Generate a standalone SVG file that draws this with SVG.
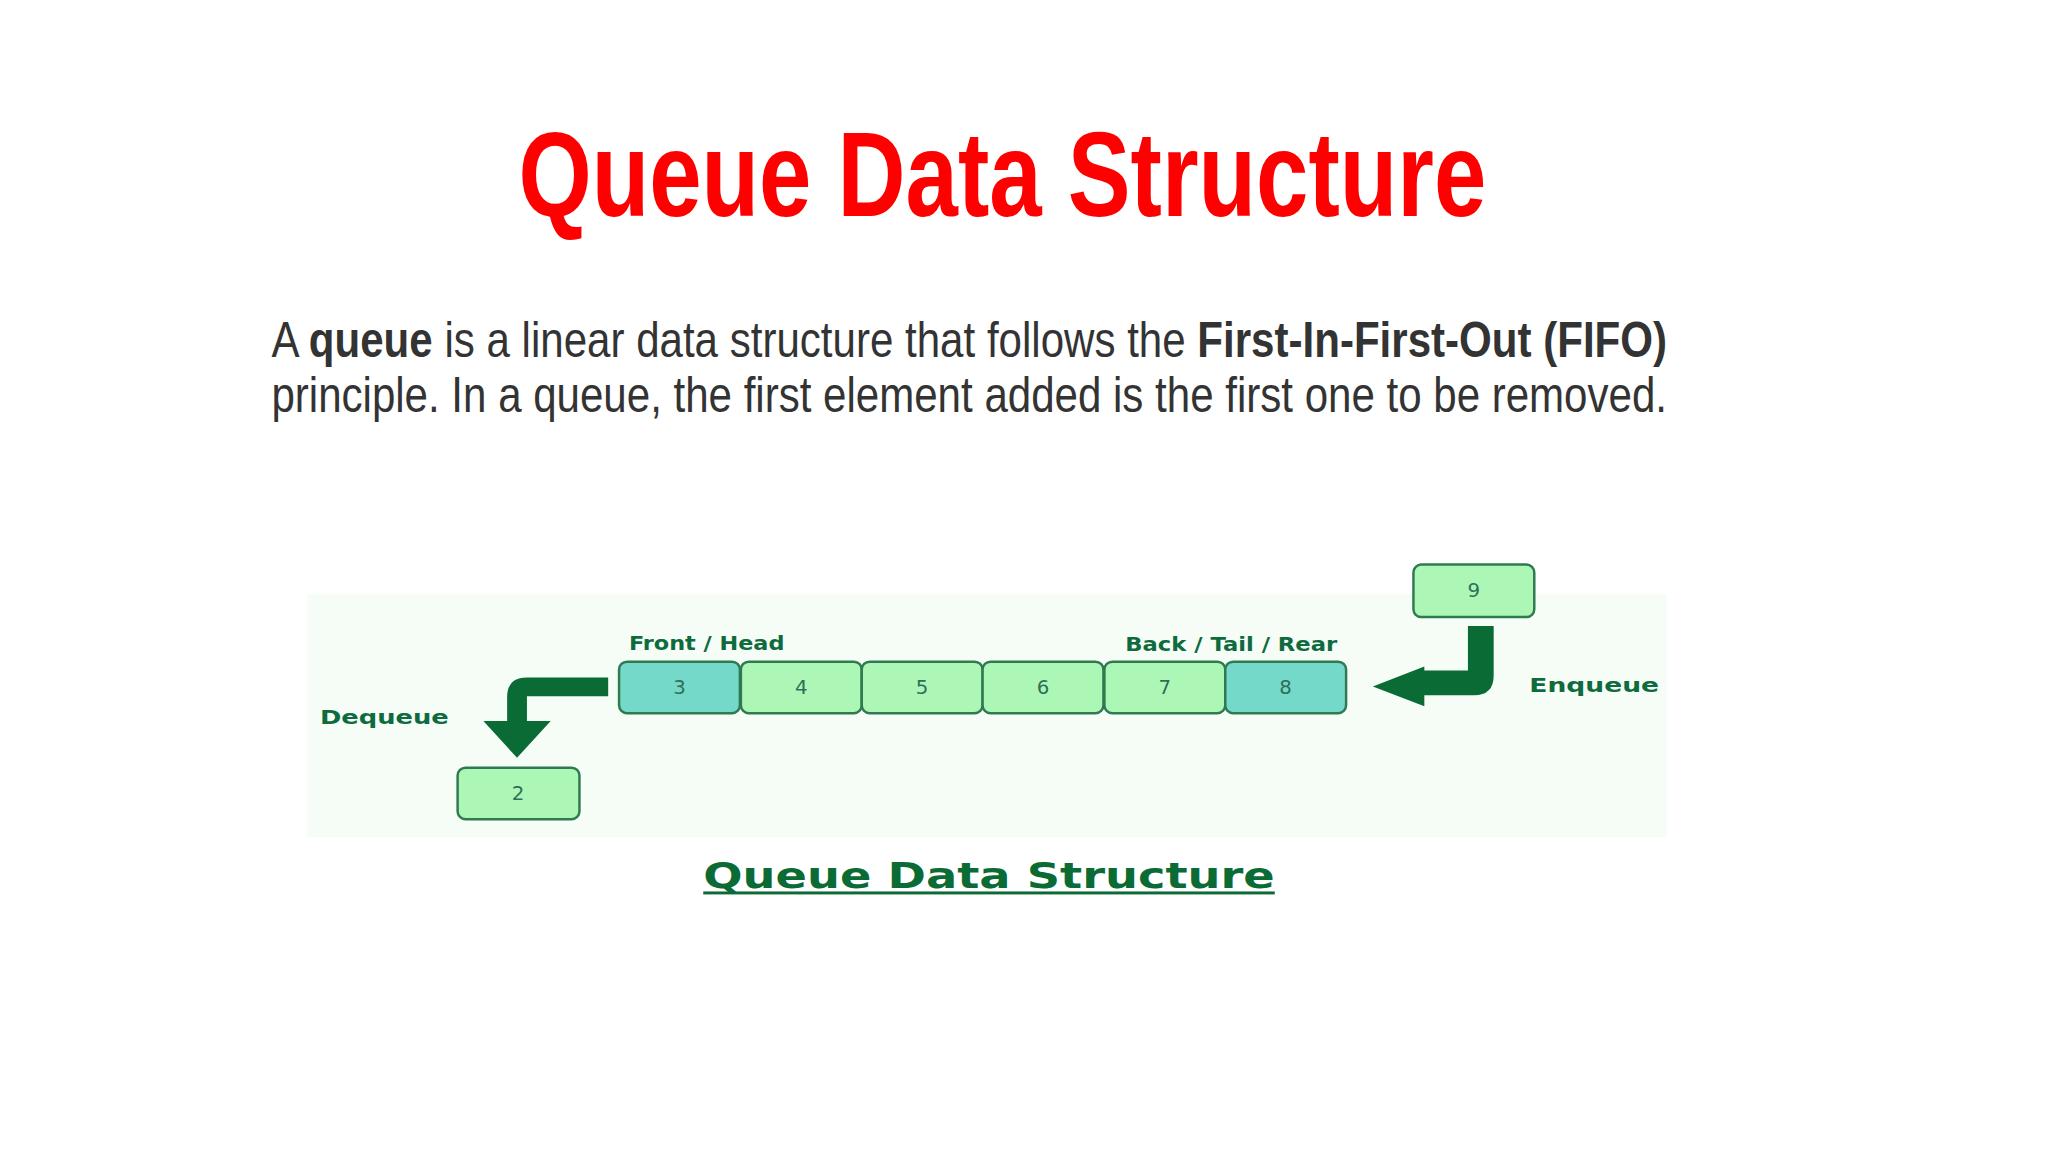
<svg xmlns="http://www.w3.org/2000/svg" width="2048" height="1152" viewBox="0 0 2048 1152">
<style>
.box{fill:#adf7b6;stroke:#2f7a50;stroke-width:2.5}
.teal{fill:#74d9c8}
.num{font-family:"DejaVu Sans",sans-serif;font-size:20px;fill:#2f6f5a;text-anchor:middle}
.lbl{font-family:"DejaVu Sans",sans-serif;font-weight:bold;font-size:20px;fill:#0e6b3e}
.arr{fill:#0b6b35}
</style>
<rect width="2048" height="1152" fill="#fff"/>
<g transform="scale(0.9905)">
<text x="1012" y="218" font-family="'Liberation Sans Narrow','Liberation Sans',sans-serif" font-weight="bold" font-size="122" fill="#ff0000" text-anchor="middle" textLength="977" lengthAdjust="spacingAndGlyphs">Queue Data Structure</text>
<g font-family="'Liberation Sans Narrow','Liberation Sans',sans-serif" font-size="50" fill="#333">
<text x="274" y="360" textLength="1409" lengthAdjust="spacingAndGlyphs">A <tspan font-weight="bold">queue</tspan> is a linear data structure that follows the <tspan font-weight="bold">First-In-First-Out (FIFO)</tspan></text>
<text x="274" y="416" textLength="1409" lengthAdjust="spacingAndGlyphs">principle. In a queue, the first element added is the first one to be removed.</text>
</g>
<rect x="310" y="600" width="1373" height="245" fill="#f6fcf6"/>
<g id="connectors">
<path class="arr" d="M614 684 H532 Q512 684 512 704 V728 H488 L522 765 L556 728 H532 V703 H614 Z"/>
<path class="arr" d="M1482 632 H1508 V682 Q1508 702 1488 702 H1438 V713 L1386 693 L1438 673 V677 H1482 Z"/>
</g>
<g id="n3"><rect class="box teal" x="625" y="668" width="122" height="52" rx="8"/><text class="num" x="686" y="701">3</text></g>
<g id="n4"><rect class="box" x="748" y="668" width="122" height="52" rx="8"/><text class="num" x="809" y="701">4</text></g>
<g id="n5"><rect class="box" x="870" y="668" width="122" height="52" rx="8"/><text class="num" x="931" y="701">5</text></g>
<g id="n6"><rect class="box" x="992" y="668" width="122" height="52" rx="8"/><text class="num" x="1053" y="701">6</text></g>
<g id="n7"><rect class="box" x="1115" y="668" width="122" height="52" rx="8"/><text class="num" x="1176" y="701">7</text></g>
<g id="n8"><rect class="box teal" x="1237" y="668" width="122" height="52" rx="8"/><text class="num" x="1298" y="701">8</text></g>
<g id="n9"><rect class="box" x="1427" y="570" width="122" height="53" rx="8"/><text class="num" x="1488" y="603">9</text></g>
<g id="n2"><rect class="box" x="462" y="775" width="123" height="52" rx="8"/><text class="num" x="523" y="808">2</text></g>
<text class="lbl" x="635" y="656" textLength="157" lengthAdjust="spacingAndGlyphs">Front / Head</text>
<text class="lbl" x="1136" y="657" textLength="214" lengthAdjust="spacingAndGlyphs">Back / Tail / Rear</text>
<text class="lbl" x="323" y="731" textLength="130" lengthAdjust="spacingAndGlyphs">Dequeue</text>
<text class="lbl" x="1544" y="699" textLength="131" lengthAdjust="spacingAndGlyphs">Enqueue</text>
<text x="710" y="897" font-family="'DejaVu Sans',sans-serif" font-weight="bold" font-size="36" fill="#0b6b35" textLength="577" lengthAdjust="spacingAndGlyphs">Queue Data Structure</text>
<rect x="710" y="900" width="577" height="3" fill="#0b6b35"/>
</g>
</svg>
